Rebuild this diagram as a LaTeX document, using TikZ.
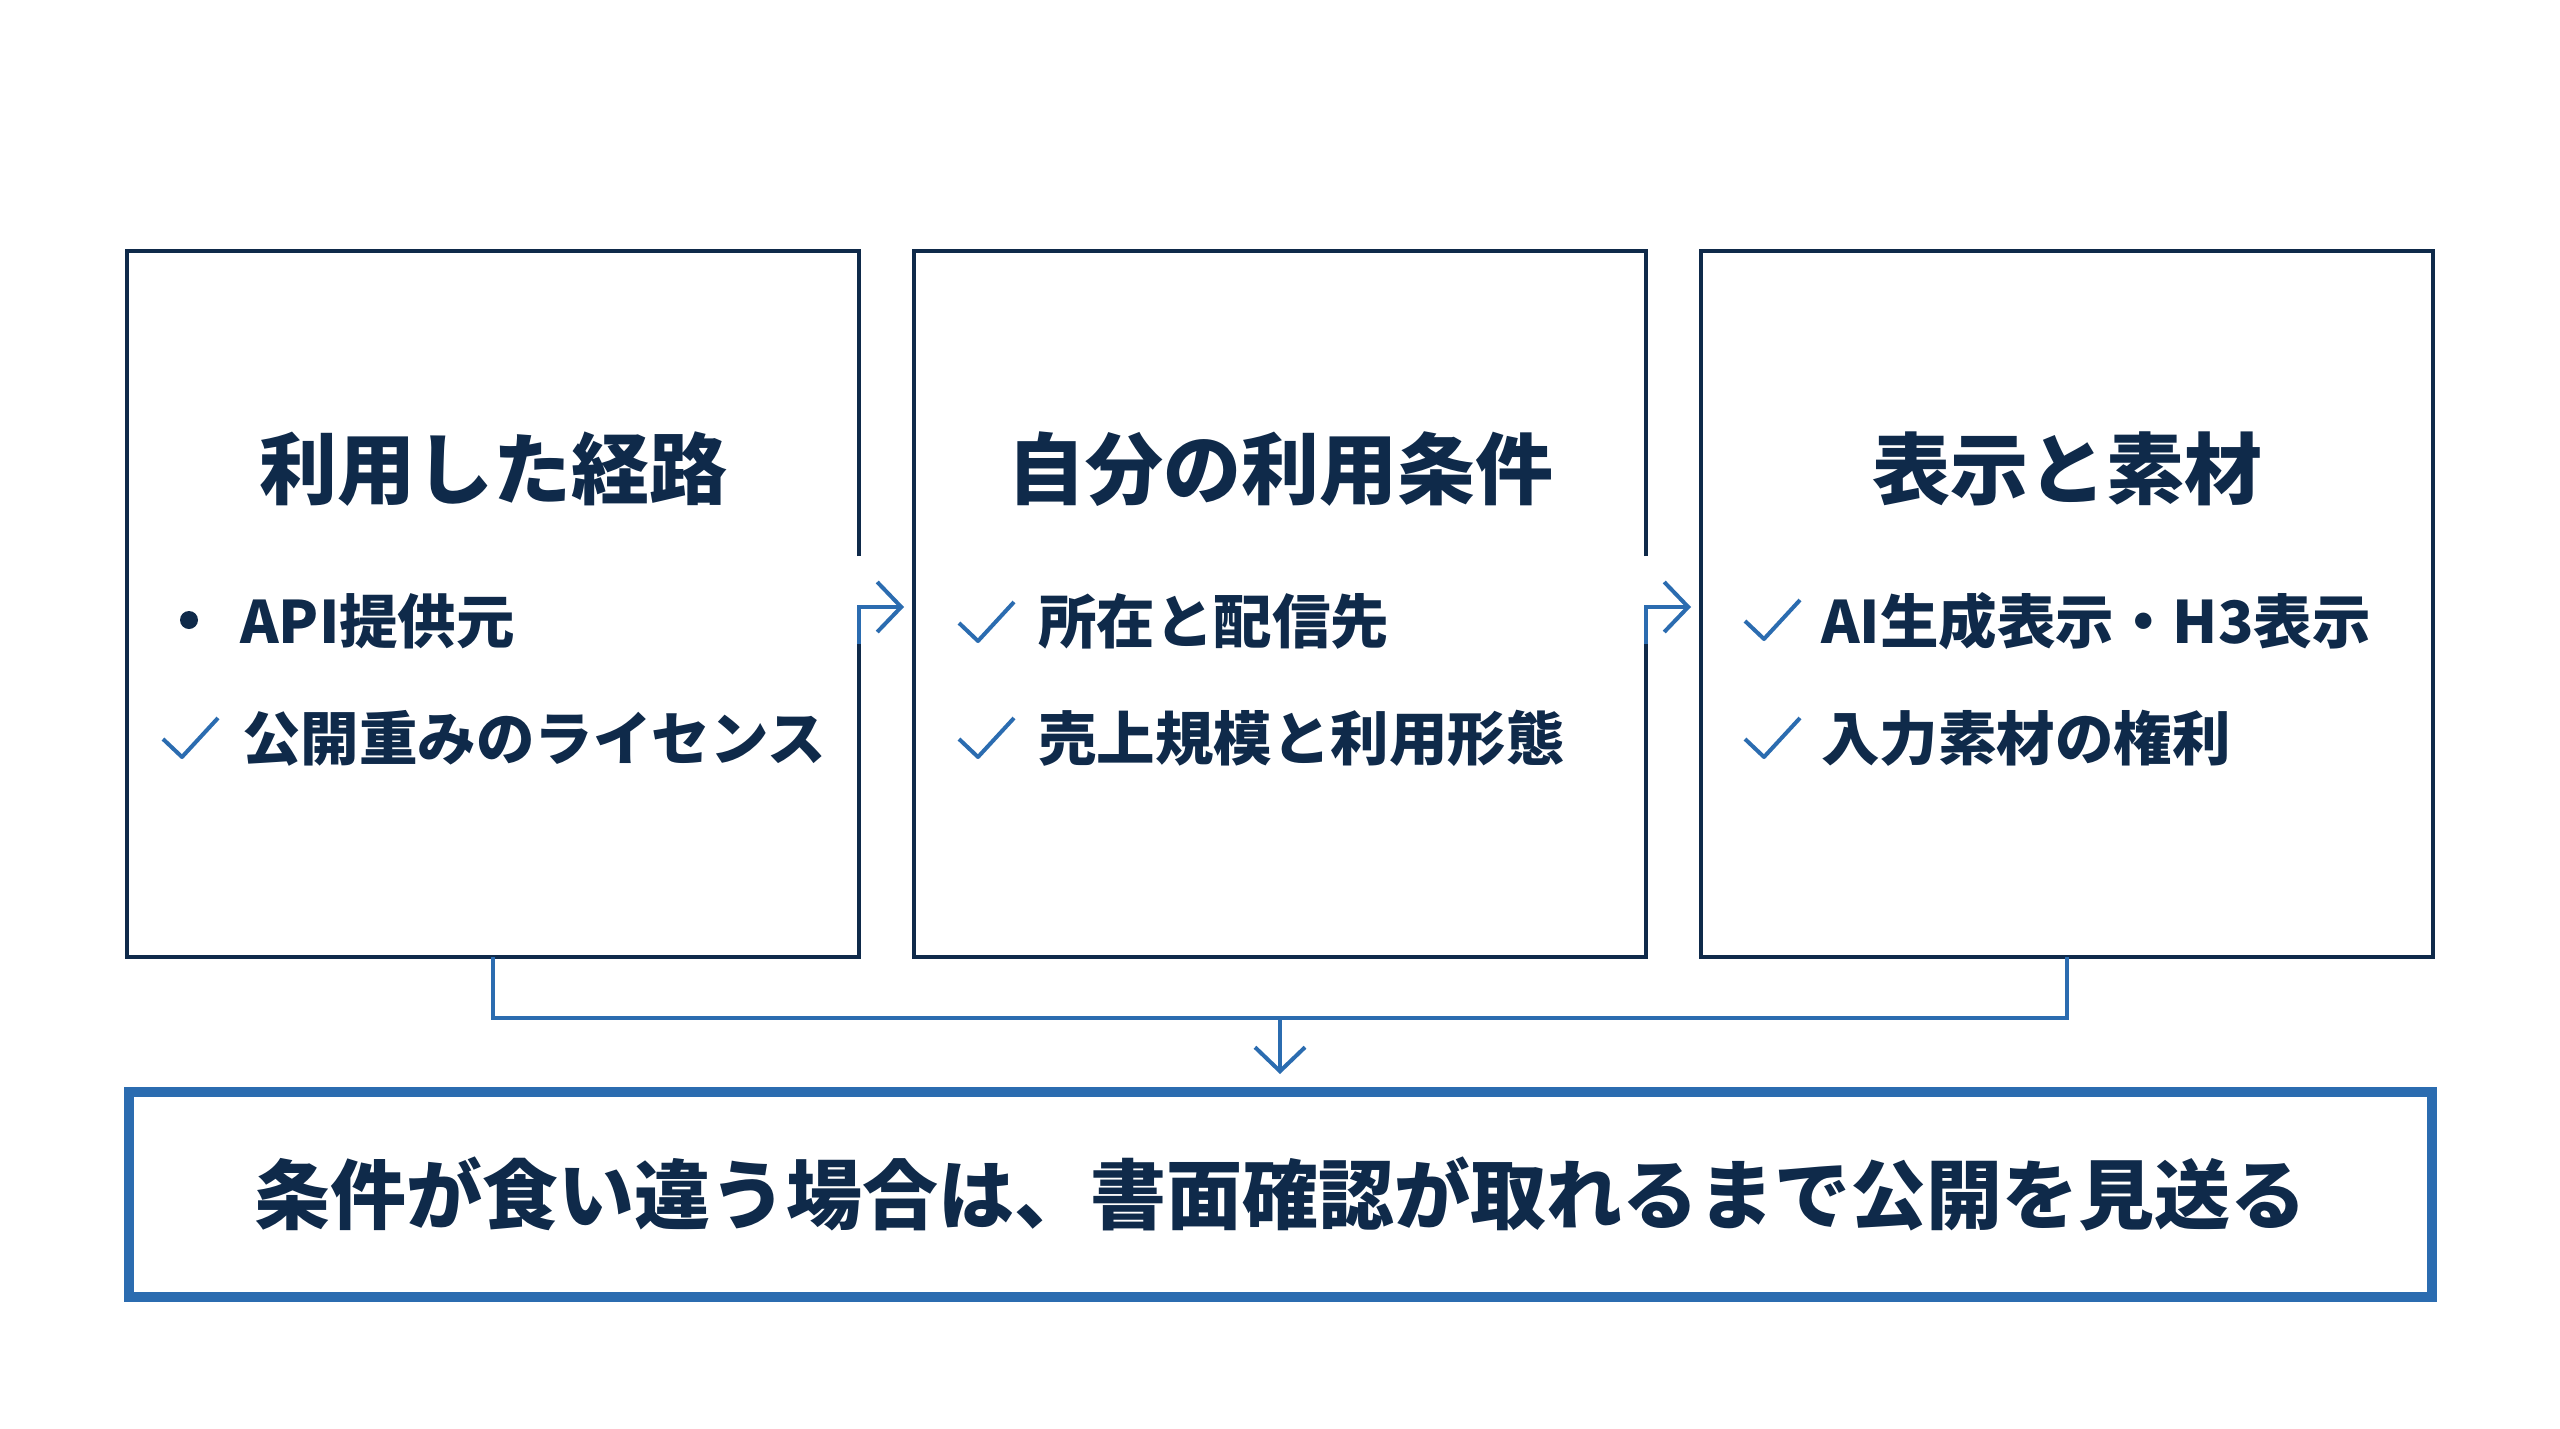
\documentclass[tikz,border=0pt]{standalone}
\usepackage{fontspec}
\setmainfont{Noto Sans CJK JP}
\usetikzlibrary{arrows.meta,positioning,calc}
\definecolor{navy}{HTML}{0F2A4A}
\definecolor{steel}{HTML}{2B6CB0}
\tikzstyle{panel} = [rectangle, minimum width=732pt, minimum height=706pt, inner sep=0pt, outer sep=0pt]
\tikzstyle{frame} = [draw=navy, line width=4.5pt]
\tikzstyle{heading} = [font=\fontsize{78}{90}\selectfont\bfseries, text=navy, text height=69pt, text depth=9pt, inner sep=0pt]
\tikzstyle{item} = [anchor=west, font=\fontsize{58.5}{70}\selectfont\bfseries, text=navy, text height=51pt, text depth=7pt, inner sep=0pt]
\tikzstyle{flow} = [draw=steel, line width=4pt, -{Straight Barb[length=24pt,width=50pt]}]
\tikzstyle{link} = [draw=steel, line width=3.5pt]
\tikzstyle{verdict} = [rectangle, draw=steel, line width=10pt, minimum width=2303pt, minimum height=205pt, font=\fontsize{76}{90}\selectfont\bfseries, text=navy, text height=67pt, text depth=9pt]
\tikzset{tickmark/.pic={\draw[steel, line width=4pt, line join=round] (-27,1) -- (-8,19) -- (28,-20);}}

\begin{document}
\begin{tikzpicture}[x=1pt, y=-1pt]
\path[use as bounding box, fill=white] (0,0) rectangle (2560,1429);

% three panels
\node[panel] (route) at (493,604) {};
\node[panel, right=55pt of route] (terms) {};
\node[panel, right=55pt of terms] (display) {};

\foreach \b in {route,terms}
  \draw[frame] ($(\b.east)+(0,-48)$) -- (\b.north east) -- (\b.north west) -- (\b.south west) -- (\b.south east) -- ($(\b.east)+(0,3)$);
\draw[frame] (display.north west) rectangle (display.south east);

\node[heading] (routeT) at ($(route.north)+(0,217)$) {利用した経路};
\node[heading] (termsT) at ($(terms.north)+(0,217)$) {自分の利用条件};
\node[heading] (displayT) at ($(display.north)+(0,217)$) {表示と素材};

% items
\fill[navy] ($(route.west)+(62,16)$) circle (9);
\node[item] (routeA) at ($(route.west)+(113,17)$) {API提供元};
\pic at ($(route.west)+(63,134)$) {tickmark};
\node[item] (routeB) at ($(route.west)+(115,134)$) {公開重みのライセンス};

\pic at ($(terms.west)+(72,18)$) {tickmark};
\node[item] (termsA) at ($(terms.west)+(124,17)$) {所在と配信先};
\pic at ($(terms.west)+(72,134)$) {tickmark};
\node[item] (termsB) at ($(terms.west)+(124,134)$) {売上規模と利用形態};

\pic at ($(display.west)+(71,16)$) {tickmark};
\node[item] (displayA) at ($(display.west)+(120,17)$) {AI生成表示・H3表示};
\pic at ($(display.west)+(71,134)$) {tickmark};
\node[item] (displayB) at ($(display.west)+(120,134)$) {入力素材の権利};

% conclusion
\node[verdict] (verdict) at (1280,1194.5) {条件が食い違う場合は、書面確認が取れるまで公開を見送る};

\draw[flow] ($(route.east)+(0,40)$) |- ($(terms.west)+(-10,3)$);
\draw[flow] ($(terms.east)+(0,40)$) |- ($(display.west)+(-10,3)$);

\coordinate (bend) at ($(route.south)+(0,61)$);
\draw[link] (route.south) -- (bend) -| (display.south);
\draw[flow, shorten >=13pt] (bend -| terms.south) -- (verdict.north);
\end{tikzpicture}
\end{document}
